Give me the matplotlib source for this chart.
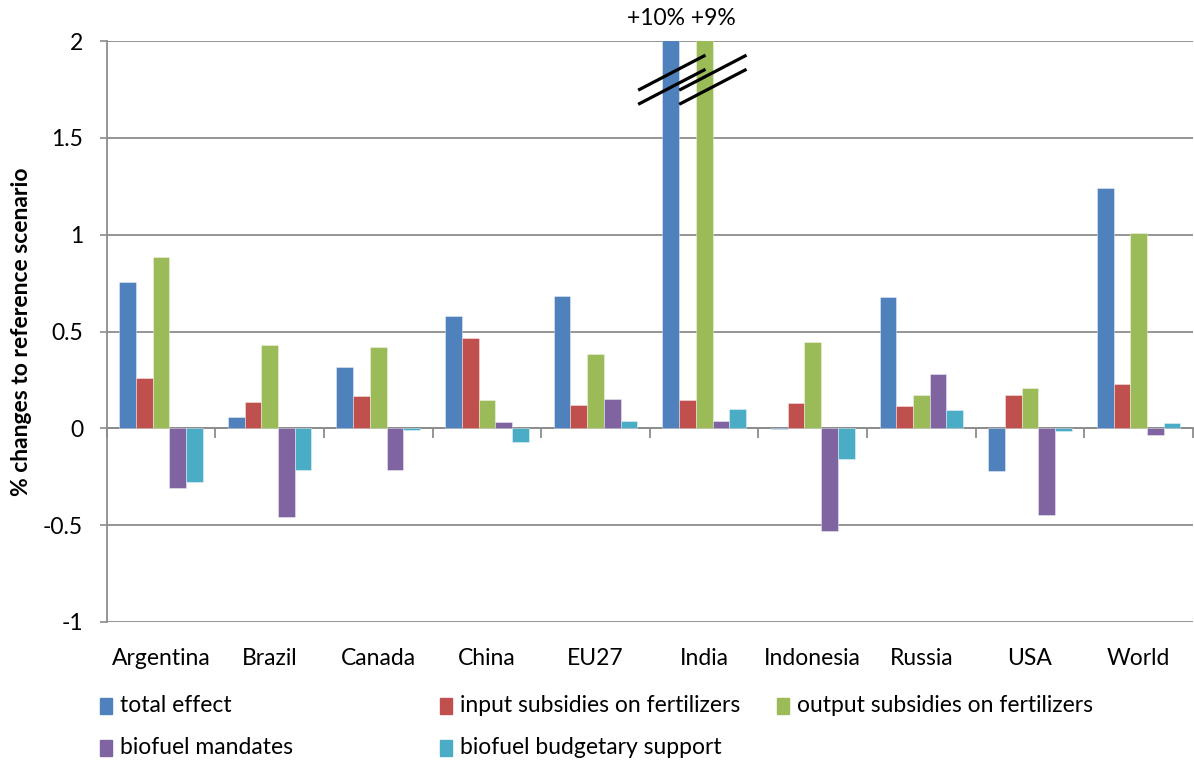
import matplotlib
matplotlib.use("Agg")
import matplotlib.pyplot as plt
from matplotlib.patches import Rectangle
import numpy as np

plt.rcParams['font.family'] = ['Lato', 'DejaVu Sans']

regions = ["Argentina", "Brazil", "Canada", "China", "EU27",
           "India", "Indonesia", "Russia", "USA", "World"]

series_names = ["total effect", "input subsidies on fertilizers",
                "output subsidies on fertilizers", "biofuel mandates",
                "biofuel budgetary support"]

total_effect = [0.756, 0.06, 0.315, 0.58, 0.683, 10.0, -0.005, 0.678, -0.222, 1.241]
input_subsidies = [0.258, 0.137, 0.165, 0.464, 0.121, 0.145, 0.133, 0.117, 0.17, 0.227]
output_subsidies = [0.885, 0.432, 0.418, 0.147, 0.383, 9.0, 0.444, 0.172, 0.208, 1.007]
biofuel_mandates = [-0.308, -0.458, -0.217, 0.031, 0.152, 0.04, -0.532, 0.28, -0.45, -0.035]
biofuel_budget = [-0.277, -0.217, -0.008, -0.07, 0.037, 0.098, -0.157, 0.097, -0.014, 0.026]

y_ticks = [-1, -0.5, 0, 0.5, 1, 1.5, 2]
y_ticklabels = ["-1", "-0.5", "0", "0.5", "1", "1.5", "2"]

colors = ["#4F81BD", "#C0504D", "#9BBB59", "#8064A2", "#4BACC6"]
grid_color = "#8C8C8C"
FS = 16.5

series = [total_effect, input_subsidies, output_subsidies,
          biofuel_mandates, biofuel_budget]

W, H = 1194, 767
fig = plt.figure(figsize=(W / 100, H / 100), dpi=100)
ax = fig.add_axes([106.7 / W, 1 - 622 / H, (1193 - 106.7) / W, (622 - 41) / H])

n = len(series)
bar_w = 1.0 / (n + 1.5)
x = np.arange(len(regions))
for i, (vals, col, name) in enumerate(zip(series, colors, series_names)):
    offs = (i - (n - 1) / 2) * bar_w
    ax.bar(x + offs, vals, width=bar_w, color=col, label=name,
           edgecolor=(1, 1, 1, 0.45), linewidth=0.6, zorder=3)

ax.set_xlim(-0.5, len(regions) - 0.5)
ax.set_ylim(-1, 2)

# horizontal gridlines and left axis
ax.set_yticks(y_ticks)
ax.set_yticklabels(y_ticklabels, fontsize=FS)
ax.yaxis.grid(True, color=grid_color, linewidth=1.3, zorder=0)
ax.tick_params(axis='y', length=5, width=1.2, color=grid_color, pad=12)
for s in ["top", "right", "bottom"]:
    ax.spines[s].set_visible(False)
ax.spines["left"].set_color(grid_color)
ax.spines["left"].set_linewidth(1.3)

# category labels at the bottom of the plot
ax.set_xticks(x)
ax.set_xticklabels(regions, fontsize=FS)
ax.tick_params(axis='x', length=0, pad=19)

# category axis running along zero with separator ticks
zero_loc = (0 - (-1)) / (2 - (-1))
sec = ax.secondary_xaxis(zero_loc)
sec.set_xticks(np.arange(len(regions) + 1) - 0.5)
sec.set_xticklabels([])
sec.tick_params(axis='x', direction='out', length=7, width=1.3, color=grid_color)
sec.spines["bottom"].set_color(grid_color)
sec.spines["bottom"].set_linewidth(1.3)
sec.spines["top"].set_visible(False)

ax.set_ylabel("% changes to reference scenario", fontsize=FS,
              fontweight="bold")
ax.yaxis.set_label_coords(-0.069, 0.5)

# axis-break marks and out-of-range values for India
ii = regions.index("India")
xb = x[ii] - 2 * bar_w
xg = x[ii]
for x0, x1 in ((xb - 0.30, xb + 0.32), (xg - 0.23, xg + 0.39)):
    for dy in (0.0, -0.073):
        ax.plot([x0, x1], [1.746 + dy, 1.927 + dy],
                color="black", linewidth=2.3, zorder=5, clip_on=False,
                solid_capstyle="butt")
ax.text((xb + xg) / 2 - 0.06, 2.06,
        f"+{total_effect[ii]:.0f}% +{output_subsidies[ii]:.0f}%",
        ha="center", va="bottom", fontsize=FS)

# legend laid out in two rows
legend_cols = [100, 440, 777]
legend_rows = [706, 748]
positions = [(0, 0), (0, 1), (0, 2), (1, 0), (1, 1)]
for (r, c), name, col in zip(positions, series_names, colors):
    px, py = legend_cols[c], legend_rows[r]
    fig.add_artist(Rectangle((px / W, 1 - (py + 8) / H), 12 / W, 16 / H,
                             transform=fig.transFigure, color=col))
    fig.text((px + 20) / W, 1 - py / H, name, fontsize=FS,
             ha="left", va="center")

fig.savefig("out.png", dpi=100)
